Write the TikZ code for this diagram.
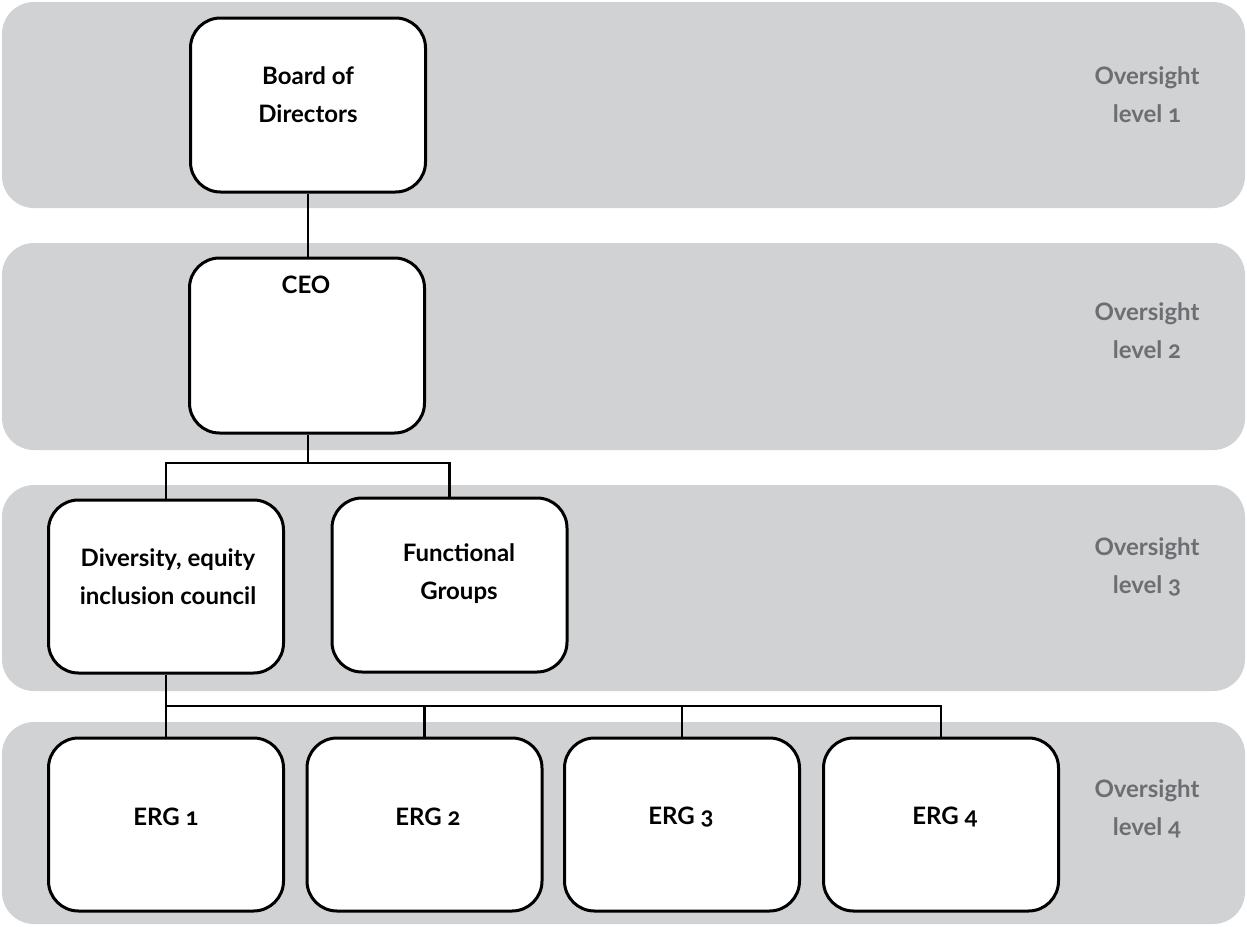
\documentclass[tikz,border=0pt]{standalone}
\usepackage{fontspec}
\setmainfont{Lato}[Numbers=OldStyle]
\definecolor{bandgray}{HTML}{D1D2D4}
\definecolor{lvlgray}{HTML}{6D6E71}
\begin{document}
\begin{tikzpicture}[x=1pt,y=-1pt,
  band/.style={fill=bandgray, rounded corners=32pt},
  box/.style={draw=black, line width=3pt, fill=white, rounded corners=30pt, inner sep=0pt, minimum width=235pt},
  conn/.style={line width=2.8pt},
  boxtext/.style={font=\bfseries\fontsize{24}{38}\selectfont, align=center, text=black, inner sep=0pt},
  lvl/.style={font=\bfseries\fontsize{24}{38}\selectfont, align=center, text=lvlgray, inner sep=0pt}]
\useasboundingbox (0,0) rectangle (1247,926);
% bands
\path[band] (2,2) rectangle (1245,208);
\path[band] (2,243) rectangle (1245,450);
\path[band] (2,485) rectangle (1245,691);
\path[band] (2,722) rectangle (1245,924);
% level labels
\node[lvl] (l1) at (1147,95) {Oversight\\level 1};
\node[lvl] (l2) at (1147,331) {Oversight\\level 2};
\node[lvl] (l3) at (1147,567) {Oversight\\level 3};
\node[lvl] (l4) at (1147,809) {Oversight\\level 4};
% boxes
\node[box, minimum height=174pt] (board) at (308,105) {};
\node[box, minimum height=175pt] (ceo) at (307,345.5) {};
\node[box, minimum height=173pt] (dei) at (166,586.5) {};
\node[box, minimum height=174pt] (func) at (449.5,585) {};
\node[box, minimum height=173pt] (erg1) at (166,824.5) {};
\node[box, minimum height=173pt] (erg2) at (424.5,824.5) {};
\node[box, minimum height=173pt] (erg3) at (682,824.5) {};
\node[box, minimum height=173pt] (erg4) at (941,824.5) {};
% texts
\node[boxtext] (tboard) at (308,95) {Board of\\Directors};
\node[boxtext] (tceo) at (306,285) {CEO};
\node[boxtext] (tdei) at (168,577) {Diversity, equity\\inclusion council};
\node[boxtext] (tfunc) at (459,574) {Functional\\Groups};
\node[boxtext] (terg1) at (166,817) {ERG 1};
\node[boxtext] (terg2) at (428,817) {ERG 2};
\node[boxtext] (terg3) at (681,817) {ERG 3};
\node[boxtext] (terg4) at (945,817) {ERG 4};
% connectors
\coordinate (j1) at (308,463);
\coordinate (j2) at (166,706);
\draw[conn] (board.south) -- (board.south |- ceo.north);
\draw[conn] (ceo.south -| board.south) -- (j1);
\draw[conn] (dei.north) -- (dei.north |- j1) -- (func.north |- j1) -- (func.north);
\draw[conn] (dei.south) -- (j2);
\draw[conn] (erg1.north) -- (erg1.north |- j2) -- (erg4.north |- j2) -- (erg4.north);
\draw[conn] (erg2.north) -- (erg2.north |- j2);
\draw[conn] (erg3.north) -- (erg3.north |- j2);
\end{tikzpicture}
\end{document}
